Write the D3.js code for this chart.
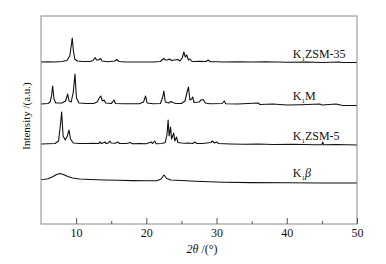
<!DOCTYPE html>
<html>
<head>
<meta charset="utf-8">
<script src="https://cdn.jsdelivr.net/npm/d3@7"></script>
<style>
  body { margin: 0; background: #fff; }
  svg text { font-family: "Liberation Serif", "Times New Roman", serif; fill: #111; }
</style>
</head>
<body>
<svg id="chart" width="386" height="264"></svg>
<script>
/* XRD 패턴 — 네 개의 시료를 세로로 쌓아서 표시 */

// ---------- 데이터 (2θ, 상대 강도 a.u.) ----------
const seriesNames = ["K1ZSM-35", "K1M", "K1ZSM-5", "K1β"];
const labelMain = ["ZSM-35", "M", "ZSM-5", "β"];
const offsets = [162, 120, 80, 43];   // 세로 쌓기 간격 (a.u.)

const zsm35 = [
  [5, 0], [6, 0.3], [7, 0], [8, 0.5], [8.7, 1.5], [9.1, 6], [9.3, 16], [9.45, 24], [9.6, 12],
  [9.8, 3], [10.2, 1], [11, 0.5], [12, 0.5], [12.4, 1.5], [12.7, 4.5], [12.9, 2], [13.2, 2],
  [13.5, 3.5], [13.7, 1], [14.5, 0.3], [15.5, 1], [15.8, 2.5], [16.1, 0.5], [17, 0], [19, 0],
  [21, 0], [22, 0.5], [22.3, 2.5], [22.5, 3.5], [22.7, 2], [23, 2], [23.3, 3], [23.6, 1.5],
  [24, 2], [24.5, 2.5], [24.8, 1], [25.1, 4], [25.35, 10], [25.55, 5], [25.75, 7], [26, 2],
  [26.2, 3], [26.5, 0.5], [27, 0.5], [27.5, 0.8], [28.5, 0.5], [28.8, 2], [29.1, 0.3], [30, 0.3],
  [31, 0], [33, 0.3], [35, 0], [37, 0.3], [40, -0.3], [43, 0], [45, -0.5], [47.5, 0], [48, -0.5], [50, -0.5]
];

const k1m = [
  [5, 0], [6, 0.5], [6.3, 2], [6.5, 8], [6.66, 18], [6.85, 5], [7.1, 1], [8, 1], [8.5, 3],
  [8.8, 10], [9.0, 3], [9.3, 2], [9.6, 12], [9.84, 30], [10.05, 6], [10.4, 1], [11.5, 0.5],
  [12.5, 0.5], [13, 2], [13.3, 6], [13.5, 8], [13.75, 3], [14.0, 4], [14.2, 1], [15, 0.5],
  [15.2, 2], [15.4, 4], [15.6, 0.5], [17, 0.3], [19, 0.3], [19.6, 2], [19.9, 8], [20.1, 1],
  [21, 0.3], [22, 0.5], [22.3, 6], [22.5, 13], [22.7, 2], [23.2, 1], [23.5, 2.5], [23.8, 1.5],
  [24.2, 0.5], [25, 0.5], [25.5, 3], [25.8, 12], [26.0, 17], [26.2, 4], [26.45, 5], [26.6, 7],
  [26.8, 1.5], [27.5, 2], [27.8, 4], [28.1, 4.5], [28.4, 1], [29, 0.3], [30.8, 0.5], [31.1, 3],
  [31.3, 0.3], [33, 0], [35.9, 1], [36.2, -0.5], [38, 0], [40, -1], [42, -0.7], [44.7, 0],
  [45, -1], [47, 0], [48, -1.5], [50, -1.5]
];

const zsm5 = [
  [5, 0], [6, 0.3], [7, 0.5], [7.5, 3], [7.75, 18], [7.94, 32], [8.15, 8], [8.45, 4], [8.75, 8],
  [8.99, 14], [9.2, 5], [9.6, 1], [10.5, 0.5], [11.5, 0.5], [12.5, 0.8], [13.2, 0.5], [13.4, 2],
  [13.6, 0.5], [13.9, 1.2], [14.1, 2], [14.3, 0.5], [14.6, 1], [14.8, 3], [15.0, 1], [15.6, 0.8],
  [15.9, 2], [16.2, 0.5], [17.2, 0.5], [17.7, 1.5], [18, 0.3], [19, 0.5], [20, 0.3], [20.7, 2],
  [20.9, 0.5], [21.2, 3], [21.4, 0.3], [22.2, 0.5], [22.7, 1.5], [22.95, 10], [23.1, 24],
  [23.25, 8], [23.45, 17], [23.6, 5], [23.9, 11], [24.05, 3], [24.3, 7], [24.5, 1.5], [25, 1],
  [25.5, 0.8], [26, 1], [26.6, 0.5], [26.9, 2], [27.2, 0.5], [28, 0.5], [29.2, 1.5], [29.4, 3],
  [29.7, 1], [30, 2], [30.3, 0.5], [32, 0], [34, -0.3], [36, 0], [38, -0.5], [41, -0.3],
  [44, -0.8], [45.0, -0.8], [45.1, 2], [45.25, -0.8], [47, -0.5], [50, -1]
];

const beta = [
  [5, 1.5], [5.5, 1.8], [6, 2.2], [6.6, 4], [7.2, 6.5], [7.7, 7.5], [8.2, 6.5], [8.8, 4.5],
  [9.5, 3], [10.5, 2], [12, 1.5], [14, 1], [16, 0.7], [18, 0.4], [20, 0.3], [21.5, 0.3],
  [22.1, 2], [22.5, 6], [22.9, 2.5], [23.5, 1], [25, 0.5], [27, -0.2], [29, -0.8], [31, -1.2],
  [35, -1.6], [40, -1.8], [45, -2], [50, -2]
];

const seriesData = [zsm35, k1m, zsm5, beta];

const majorTicks = [10, 20, 30, 40, 50];
const minorTicks = [15, 25, 35, 45];

// ---------- 레이아웃 ----------
const svg = d3.select("#chart");
const plot = { left: 41, right: 357, top: 16, bottom: 224 };

const x = d3.scaleLinear().domain([5, 50]).range([plot.left, plot.right]);
const y = d3.scaleLinear().domain([0, 208]).range([plot.bottom, plot.top]);

// ---------- 곡선 ----------
const line = d3.line()
  .x((d) => x(d[0]))
  .y((d) => y(d[1]));

seriesData.forEach((pts, i) => {
  svg.append("path")
    .datum(pts.map((p) => [p[0], p[1] + offsets[i]]))
    .attr("d", line)
    .attr("fill", "none")
    .attr("stroke", "#111")
    .attr("stroke-width", 1.1)
    .attr("stroke-linejoin", "round");
});

// ---------- 시료 라벨 (K + 아래첨자 1) ----------
seriesNames.forEach((name, i) => {
  const t = svg.append("text")
    .attr("x", x(40.85))
    .attr("y", y(offsets[i]) - 4)
    .attr("font-size", 12);
  t.append("tspan").text("K");
  t.append("tspan").text("1").attr("font-size", 7).attr("dy", 3);
  const main = t.append("tspan").text(labelMain[i]).attr("dy", -3);
  if (labelMain[i] === "β") main.attr("font-style", "italic");
});

// ---------- 프레임 ----------
svg.append("rect")
  .attr("x", plot.left).attr("y", plot.top)
  .attr("width", plot.right - plot.left).attr("height", plot.bottom - plot.top)
  .attr("fill", "none").attr("stroke", "#8a8a8a").attr("stroke-width", 1);

// ---------- x축 (눈금은 안쪽으로) ----------
const xAxis = svg.append("g")
  .attr("transform", `translate(0,${plot.bottom})`)
  .call(d3.axisBottom(x).tickValues(majorTicks).tickSize(-6).tickPadding(4));
xAxis.select(".domain").remove();
xAxis.selectAll("line").attr("stroke", "#555");
xAxis.selectAll("text")
  .attr("font-size", 12)
  .attr("font-family", "'Liberation Serif', serif")
  .attr("fill", "#111");

svg.append("g")
  .attr("transform", `translate(0,${plot.bottom})`)
  .call(d3.axisBottom(x).tickValues(minorTicks).tickSize(-3).tickFormat(""))
  .call((g) => g.select(".domain").remove())
  .selectAll("line").attr("stroke", "#555");

// ---------- 축 제목 ----------
const xt = svg.append("text")
  .attr("x", (plot.left + plot.right) / 2 + 3)
  .attr("y", 253)
  .attr("text-anchor", "middle")
  .attr("font-size", 12);
xt.append("tspan").text("2").attr("font-style", "italic");
xt.append("tspan").text("θ").attr("font-style", "italic");
xt.append("tspan").text(" /(°)");

svg.append("text")
  .attr("transform", "translate(30,116) rotate(-90)")
  .attr("text-anchor", "middle")
  .attr("font-size", 11)
  .text("Intensity /(a.u.)");
</script>
</body>
</html>
